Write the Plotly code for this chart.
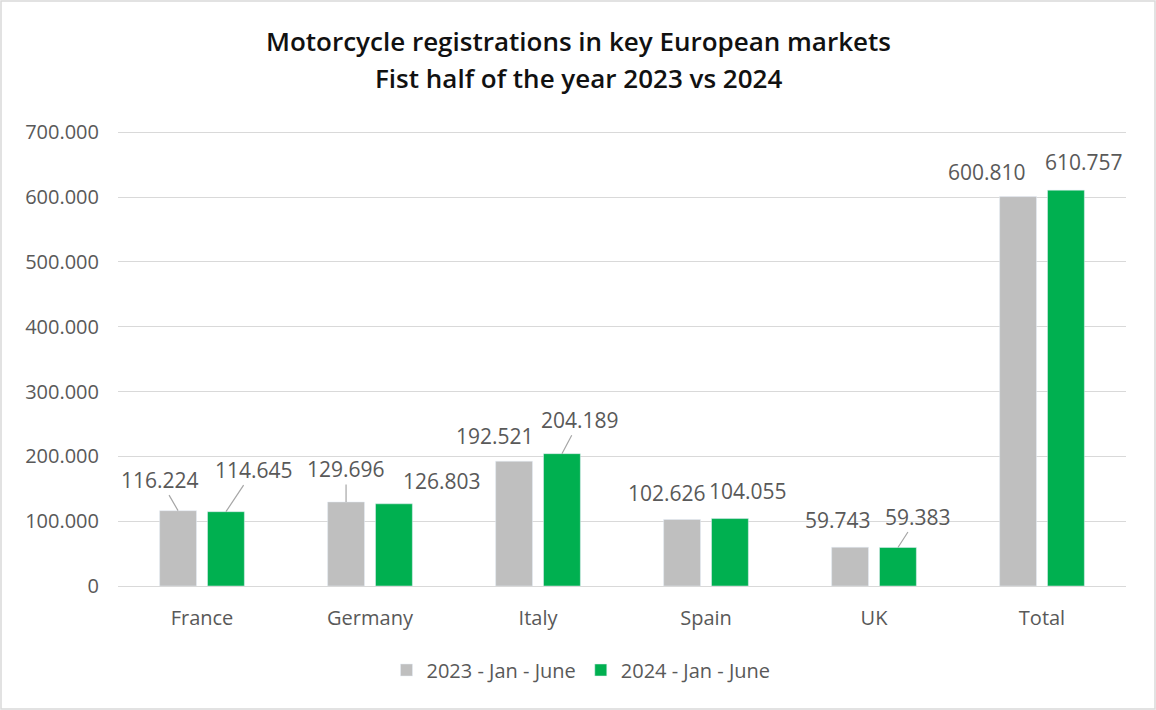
import plotly.graph_objects as go

categories = ["France", "Germany", "Italy", "Spain", "UK", "Total"]
series_2023 = [116224, 129696, 192521, 102626, 59743, 600810]
series_2024 = [114645, 126803, 204189, 104055, 59383, 610757]
name_2023 = "2023 - Jan - June"
name_2024 = "2024 - Jan - June"
title_line1 = "Motorcycle registrations in key European markets"
title_line2 = "Fist half of the year 2023 vs 2024"
y_ticks = [0, 100000, 200000, 300000, 400000, 500000, 600000, 700000]

# label placement (pixel offsets from bar top) and whether a leader line is drawn
off_2023 = [(-18, -31, True), (0, -33, True), (-19, -25, False), (-15, -26, False), (-12, -27, False), (-31, -25, False)]
off_2024 = [(28, -42, True), (48, -23, False), (18, -34, True), (18, -28, False), (20, -31, True), (18, -28, False)]

GRAY = "#BFBFBF"
GREEN = "#00B050"
TXT = "#595959"
FONT = "Open Sans"
BARGAP = 0.43
GROUPGAP = 0.23

fig = go.Figure()
fig.add_trace(go.Bar(x=categories, y=series_2023, name=name_2023, marker_color=GRAY))
fig.add_trace(go.Bar(x=categories, y=series_2024, name=name_2024, marker_color=GREEN))

def fmt(v):
    return f"{v:,}".replace(",", ".")

L, R, T, B = 118, 30, 131, 124
W, H = 1156, 710
pw, ph = W - L - R, H - T - B
def px_x(px):
    return (px - L) / pw
def px_y(py):
    return (H - B - py) / ph

slot = (1 - BARGAP) / 2
annotations = []
for vals, offs, sign in ((series_2023, off_2023, -1), (series_2024, off_2024, 1)):
    for i, (v, (dx, dy, lead)) in enumerate(zip(vals, offs)):
        xpos = i + sign * slot / 2
        lab_font = dict(family=FONT, size=21, color=TXT)
        if lead:
            annotations.append(dict(x=xpos, y=v, xref="x", yref="y", text=fmt(v),
                                    showarrow=True, arrowhead=0, arrowwidth=1.2,
                                    arrowcolor="#A6A6A6", ax=dx, ay=dy, standoff=0,
                                    font=lab_font))
        else:
            annotations.append(dict(x=xpos, y=v, xref="x", yref="y", text=fmt(v),
                                    showarrow=False, xshift=dx, yshift=-dy,
                                    xanchor="center", yanchor="middle", font=lab_font))

title_font = dict(family=FONT, size=26, color="#111111", weight=600)
annotations.append(dict(x=px_x(578), y=px_y(41), xref="paper", yref="paper",
                        text=title_line1, showarrow=False,
                        xanchor="center", yanchor="middle", font=title_font))
annotations.append(dict(x=px_x(578), y=px_y(78), xref="paper", yref="paper",
                        text=title_line2, showarrow=False,
                        xanchor="center", yanchor="middle", font=title_font))

fig.update_layout(
    width=W, height=H,
    margin=dict(l=L, r=R, t=T, b=B),
    paper_bgcolor="white", plot_bgcolor="white",
    separators=",.",
    barmode="group", bargap=BARGAP, bargroupgap=GROUPGAP,
    font=dict(family=FONT, color=TXT),
    annotations=annotations,
    showlegend=True,
    legend=dict(orientation="h", x=px_x(581), y=px_y(670), xanchor="center", yanchor="middle",
                font=dict(family=FONT, size=20, color=TXT), traceorder="normal"),
    shapes=[dict(type="rect", xref="paper", yref="paper",
                 x0=px_x(1), x1=px_x(1155), y0=px_y(709), y1=px_y(1),
                 line=dict(color="#D9D9D9", width=1.5))],
)
fig.update_yaxes(range=[0, 702000], tickvals=y_ticks,
                 tickformat=",d", showgrid=True,
                 gridcolor="#D9D9D9", gridwidth=1.2, zeroline=True, zerolinecolor="#D9D9D9",
                 zerolinewidth=1.2, showline=False, ticks="", ticklabelstandoff=18,
                 tickfont=dict(family=FONT, size=20, color=TXT))
fig.update_xaxes(showline=False, ticks="", ticklabelstandoff=18,
                 tickfont=dict(family=FONT, size=20, color=TXT))

fig.write_html("out.html", config={"displayModeBar": False},
               post_script="document.body.style.margin='0';document.body.style.overflow='hidden';")
